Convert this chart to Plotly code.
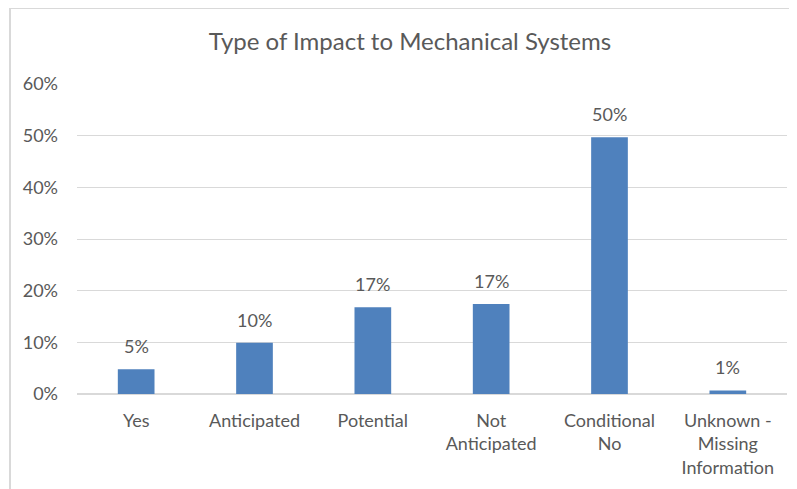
import plotly.graph_objects as go

categories = ["Yes", "Anticipated", "Potential", "Not<br>Anticipated", "Conditional<br>No", "Unknown -<br>Missing<br>Information"]
values = [0.048, 0.099, 0.168, 0.174, 0.497, 0.007]
title = "Type of Impact to Mechanical Systems"

# page has an 8px body margin; figure sizes compensate for it
OFF = 8
W, H = 797 - OFF, 489 - OFF
L, R, T, B = 77 - OFF, 10, 84 - OFF, 95
pw, ph = W - L - R, H - T - B

def px_x(p):
    return (p - OFF - L) / pw

def px_y(p):
    return (H - B - (p - OFF)) / ph

font = "Lato, 'Open Sans', sans-serif"
txt = "#595959"

fig = go.Figure(go.Bar(
    x=categories, y=values,
    marker=dict(color="#4f81bd", line=dict(width=0)),
    cliponaxis=False,
))

for c, v in zip(categories, values):
    fig.add_annotation(x=c, y=v, text=f"{v*100:.0f}%", showarrow=False,
                       yanchor="bottom", yshift=10,
                       font=dict(family=font, size=18, color=txt))

fig.update_layout(
    width=W, height=H,
    margin=dict(l=L, r=R, t=T, b=B),
    paper_bgcolor="white", plot_bgcolor="white",
    bargap=0.69,
    showlegend=False,
    title=dict(text=title, x=(410 - OFF) / W, xanchor="center", y=1 - (42 - OFF) / H, yanchor="middle",
               font=dict(family=font, size=24, color=txt)),
    xaxis=dict(showgrid=False, showline=False, ticks="", zeroline=False, ticklabelstandoff=14,
               tickfont=dict(family=font, size=18, color=txt)),
    yaxis=dict(range=[0, 0.6], dtick=0.1, tickformat=".0%", showgrid=True,
               gridcolor="#d9d9d9", gridwidth=1, zeroline=True, zerolinecolor="#d9d9d9",
               showline=False, ticks="", ticklabelstandoff=18,
               tickfont=dict(family=font, size=18, color=txt)),
    shapes=[
        dict(type="line", xref="paper", yref="paper", x0=px_x(10), x1=px_x(797), y0=px_y(8), y1=px_y(8),
             line=dict(color="#d9d9d9", width=2)),
        dict(type="line", xref="paper", yref="paper", x0=px_x(10), x1=px_x(10), y0=px_y(8), y1=px_y(489),
             line=dict(color="#d9d9d9", width=2)),
    ],
)

fig.write_html("out.html")
